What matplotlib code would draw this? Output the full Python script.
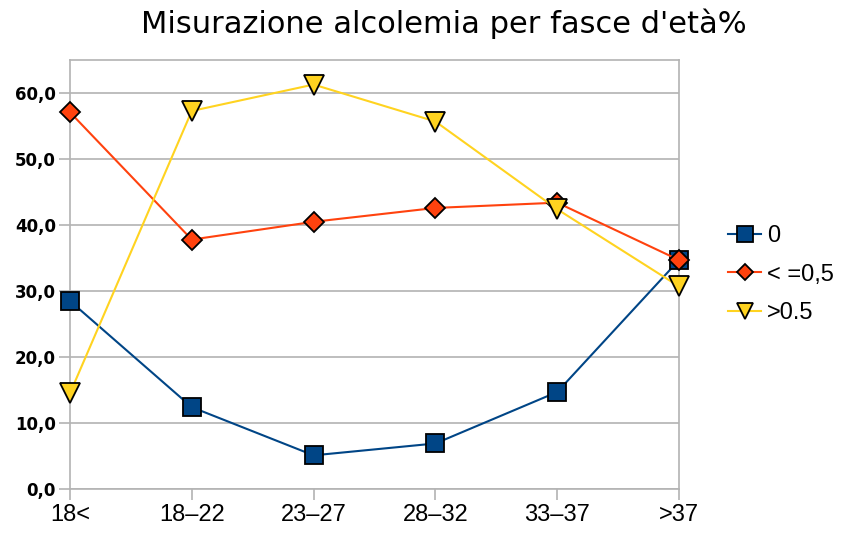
import matplotlib
matplotlib.use("Agg")
import matplotlib.pyplot as plt
from matplotlib.ticker import FuncFormatter

categories = ["18<", "18–22", "23–27", "28–32", "33–37", ">37"]
s_zero = [28.5, 12.4, 5.1, 6.9, 14.7, 34.7]
s_le05 = [57.1, 37.8, 40.5, 42.6, 43.4, 34.7]
s_gt05 = [14.5, 57.3, 61.3, 55.7, 42.4, 30.7]
labels = ["0", "< =0,5", ">0.5"]
title = "Misurazione alcolemia per fasce d'età%"

fig = plt.figure(figsize=(8.45, 5.37), dpi=100)
ax = fig.add_axes([0.0828, 0.0894, 0.7208, 0.7986])
x = list(range(len(categories)))

ax.plot(x, s_zero, color="#004586", marker="s", markersize=13, markeredgecolor="black",
        markeredgewidth=1.3, linewidth=1.5, label=labels[0], zorder=3, clip_on=False)
ax.plot(x, s_le05, color="#ff420e", marker="D", markersize=10, markeredgecolor="black",
        markeredgewidth=1.3, linewidth=1.5, label=labels[1], zorder=3, clip_on=False)
ax.plot(x, s_gt05, color="#ffd320", marker="v", markersize=14, markeredgecolor="black",
        markeredgewidth=1.3, linewidth=1.5, label=labels[2], zorder=3, clip_on=False)

ax.set_xlim(0, len(categories) - 1)
ax.set_ylim(0, 65)
ax.set_yticks(range(0, 61, 10))
ax.yaxis.set_major_formatter(FuncFormatter(lambda v, p: f"{v:.1f}".replace(".", ",")))
ax.set_xticks(x)
ax.set_xticklabels(categories, fontsize=17, family="Liberation Sans")
for t in ax.get_yticklabels():
    t.set_fontweight("bold")
    t.set_fontsize(12)
ax.grid(axis="y", color="#b3b3b3", linewidth=1.2)
ax.set_axisbelow(True)
for sp in ax.spines.values():
    sp.set_color("#b3b3b3")
    sp.set_linewidth(1.2)
ax.tick_params(axis="both", color="#b3b3b3", length=8, width=1.2, direction="out")
ax.tick_params(axis="y", pad=2)
ax.tick_params(axis="x", pad=3)

fig.suptitle(title, fontsize=22, y=0.985, x=0.525)

leg = ax.legend(loc="center left", bbox_to_anchor=(1.065, 0.5), frameon=False,
                prop={"family": "Liberation Sans", "size": 17}, handlelength=1.4,
                handletextpad=0.25, labelspacing=0.7, markerscale=0.85, borderaxespad=0)
fig.savefig("out.png", dpi=100)
